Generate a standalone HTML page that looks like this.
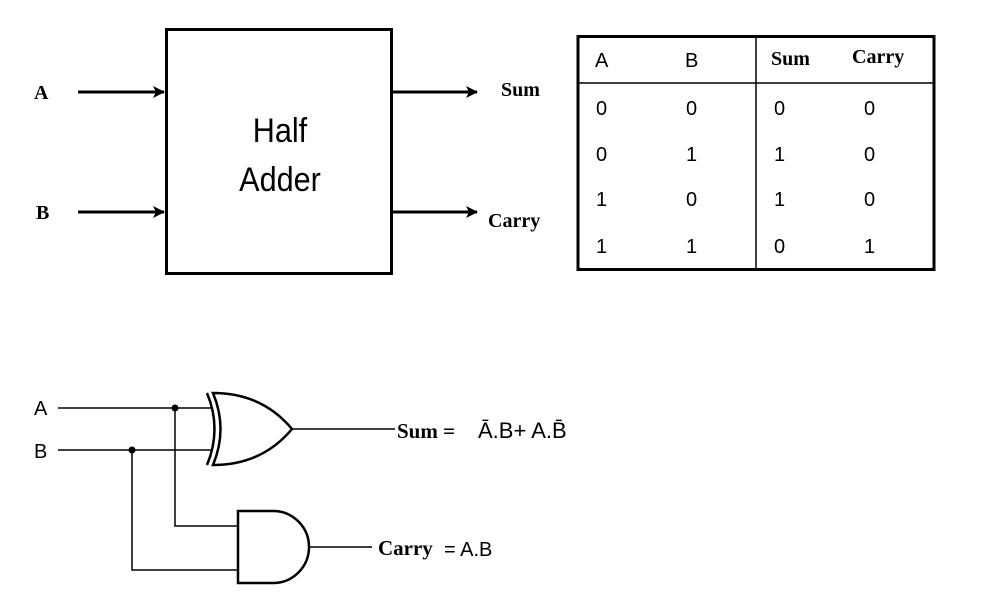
<!DOCTYPE html>
<html><head><style>
html,body{margin:0;padding:0;background:#fff;}
svg{display:block}
</style></head><body>
<svg width="991" height="598" viewBox="0 0 991 598" xmlns="http://www.w3.org/2000/svg">
<defs>
<marker id="ar" markerWidth="12" markerHeight="12" refX="11" refY="6" orient="auto" markerUnits="userSpaceOnUse">
<path d="M0,0 L12,6 L0,12 L3,6 Z" fill="#000"/>
</marker>
</defs>
<g stroke="#000" fill="none">
<rect x="166.5" y="29.5" width="225" height="244" stroke-width="3"/>
<line x1="78" y1="92" x2="164" y2="92" stroke-width="3" marker-end="url(#ar)"/>
<line x1="78" y1="212" x2="164" y2="212" stroke-width="3" marker-end="url(#ar)"/>
<line x1="393" y1="92" x2="477" y2="92" stroke-width="3" marker-end="url(#ar)"/>
<line x1="393" y1="212" x2="477" y2="212" stroke-width="3" marker-end="url(#ar)"/>
</g>
<g font-family="Liberation Serif, serif" font-weight="bold" font-size="20" fill="#000">
<text x="34" y="99">A</text>
<text x="36" y="219">B</text>
<text x="501" y="96">Sum</text>
<text x="488" y="227">Carry</text>
</g>
<g font-family="Liberation Sans, sans-serif" font-size="34" fill="#000" text-anchor="middle">
<text x="280" y="142" transform="translate(280,0) scale(0.9,1) translate(-280,0)">Half</text>
<text x="280" y="191" transform="translate(280,0) scale(0.9,1) translate(-280,0)">Adder</text>
</g>
<!-- table -->
<g stroke="#000" fill="none">
<rect x="578" y="36.5" width="356" height="233" stroke-width="3"/>
<line x1="578" y1="83" x2="934" y2="83" stroke-width="1.5"/>
<line x1="756" y1="36" x2="756" y2="270" stroke-width="1.5"/>
</g>
<g font-family="Liberation Sans, sans-serif" font-size="20" fill="#000">
<text x="595" y="67">A</text>
<text x="685" y="67">B</text>
<text x="596" y="115">0</text><text x="686" y="115">0</text><text x="774" y="115">0</text><text x="864" y="115">0</text>
<text x="596" y="161">0</text><text x="686" y="161">1</text><text x="774" y="161">1</text><text x="864" y="161">0</text>
<text x="596" y="206">1</text><text x="686" y="206">0</text><text x="774" y="206">1</text><text x="864" y="206">0</text>
<text x="596" y="253">1</text><text x="686" y="253">1</text><text x="774" y="253">0</text><text x="864" y="253">1</text>
</g>
<g font-family="Liberation Serif, serif" font-weight="bold" font-size="20" fill="#000">
<text x="771" y="65">Sum</text>
<text x="852" y="63">Carry</text>
</g>
<!-- circuit -->
<g stroke="#000" fill="none" stroke-width="1.5">
<line x1="58" y1="408" x2="213" y2="408"/>
<line x1="58" y1="450" x2="213" y2="450"/>
<polyline points="175,408 175,526 238,526"/>
<polyline points="132,450 132,570 238,570"/>
<path d="M207,393 Q222,429 207,465" stroke-width="2.5"/>
<path d="M213,393 Q228,429 213,465 Q262,465 292,429 Q262,393 213,393 Z" stroke-width="2.5"/>
<line x1="292" y1="429" x2="395" y2="429"/>
<path d="M238,511 L273,511 A36,36 0 0 1 273,583 L238,583 Z" stroke-width="2.5"/>
<line x1="309" y1="547" x2="372" y2="547"/>
</g>
<circle cx="175" cy="408" r="3.5" fill="#000"/>
<circle cx="132" cy="450" r="3.5" fill="#000"/>
<g font-family="Liberation Sans, sans-serif" font-size="20" fill="#000">
<text x="34" y="415">A</text>
<text x="34" y="458">B</text>
<text x="478" y="438" font-size="22">Ā.B+ A.B̄</text>
<text x="444" y="556">= A.B</text>
</g>
<g font-family="Liberation Serif, serif" font-weight="bold" font-size="21" fill="#000">
<text x="397" y="438">Sum =</text>
<text x="378" y="555">Carry</text>
</g>
</svg>
</body></html>
